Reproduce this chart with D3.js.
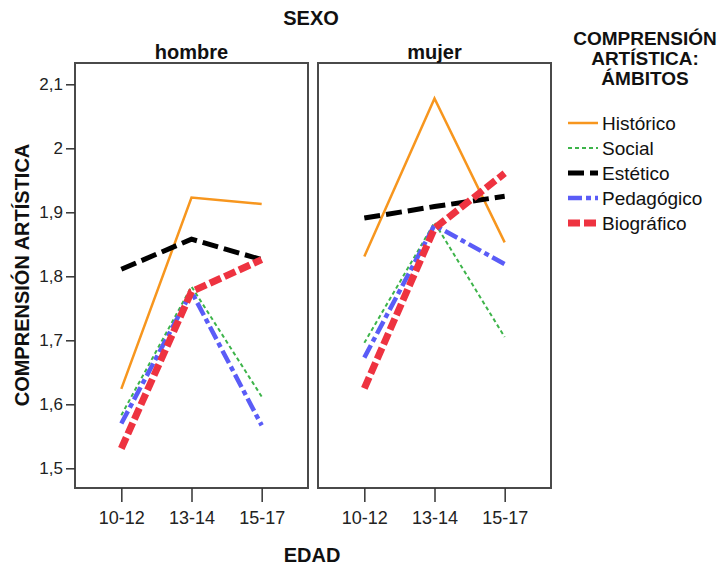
<!DOCTYPE html>
<html>
<head>
<meta charset="utf-8">
<script src="https://cdn.jsdelivr.net/npm/d3@7"></script>
<style>
  html, body { margin: 0; padding: 0; background: #fff; }
  svg { display: block; font-family: "Liberation Sans", Arial, sans-serif; }
</style>
</head>
<body>
<svg id="chart" width="724" height="565"></svg>
<script>
// ---- data ----
const categories = ["10-12", "13-14", "15-17"];
const panels = ["hombre", "mujer"];
const seriesNames = ["Histórico", "Social", "Estético", "Pedagógico", "Biográfico"];
const yTicks = [1.5, 1.6, 1.7, 1.8, 1.9, 2.0, 2.1];

const historicoHombre = [1.624, 1.923, 1.913];
const historicoMujer  = [1.831, 2.078, 1.853];
const socialHombre    = [1.583, 1.784, 1.612];
const socialMujer     = [1.696, 1.884, 1.705];
const esteticoHombre  = [1.811, 1.858, 1.826];
const esteticoMujer   = [1.891, 1.909, 1.925];
const pedagogicoHombre = [1.570, 1.776, 1.567];
const pedagogicoMujer  = [1.673, 1.880, 1.819];
const biograficoHombre = [1.531, 1.776, 1.826];
const biograficoMujer  = [1.625, 1.875, 1.961];

const seriesData = {
  "Histórico":  { hombre: historicoHombre,  mujer: historicoMujer },
  "Social":     { hombre: socialHombre,     mujer: socialMujer },
  "Estético":   { hombre: esteticoHombre,   mujer: esteticoMujer },
  "Pedagógico": { hombre: pedagogicoHombre, mujer: pedagogicoMujer },
  "Biográfico": { hombre: biograficoHombre, mujer: biograficoMujer }
};

// ---- styles ----
const styles = {
  "Histórico":  { color: "#f7961e", width: 2.5, dash: null },
  "Social":     { color: "#3db44a", width: 2,   dash: "4,3" },
  "Estético":   { color: "#000000", width: 5,   dash: "16,6" },
  "Pedagógico": { color: "#5a5cf7", width: 4.5, dash: "14,4,5,4" },
  "Biográfico": { color: "#ee3340", width: 7,   dash: "12,4" }
};

const svg = d3.select("#chart");
const panelLeft = { hombre: 75, mujer: 318 };
const panelW = 233, panelTop = 63, panelBottom = 488;

const y = d3.scaleLinear().domain([1.5, 2.1]).range([468.3, 84.3]);
const fmt = d => String(+d.toFixed(1)).replace(".", ",");

panels.forEach((p, i) => {
  const x0 = panelLeft[p];
  const x = d3.scalePoint().domain(categories).range([x0, x0 + panelW]).padding(0.66);

  // frame
  svg.append("rect")
    .attr("x", x0).attr("y", panelTop)
    .attr("width", panelW).attr("height", panelBottom - panelTop)
    .attr("fill", "none").attr("stroke", "#4a4a4a").attr("stroke-width", 2);

  // x axis
  const gx = svg.append("g").attr("transform", `translate(0,${panelBottom})`)
    .call(d3.axisBottom(x).tickSize(14).tickPadding(9));
  gx.select(".domain").remove();
  gx.selectAll(".tick line").attr("stroke", "#333").attr("stroke-width", 1.5);
  gx.selectAll(".tick text").attr("font-size", 18).attr("fill", "#222")
    .attr("font-family", "Liberation Sans, Arial, sans-serif");

  // y axis only on first panel
  if (i === 0) {
    const gy = svg.append("g").attr("transform", `translate(${x0},0)`)
      .call(d3.axisLeft(y).tickValues(yTicks).tickFormat(fmt).tickSize(9).tickPadding(3));
    gy.select(".domain").remove();
    gy.selectAll(".tick line").attr("stroke", "#333").attr("stroke-width", 1.5);
    gy.selectAll(".tick text").attr("font-size", 17).attr("fill", "#222")
      .attr("font-family", "Liberation Sans, Arial, sans-serif");
  }

  // panel label
  svg.append("text").attr("x", x0 + panelW / 2).attr("y", 59)
    .attr("text-anchor", "middle").attr("font-size", 20).attr("font-weight", "bold")
    .attr("fill", "#111").text(p);

  // lines
  const line = d3.line().x((d, k) => x(categories[k])).y(d => y(d));
  seriesNames.forEach(s => {
    const st = styles[s];
    svg.append("path")
      .datum(seriesData[s][p])
      .attr("d", line)
      .attr("fill", "none")
      .attr("stroke", st.color)
      .attr("stroke-width", st.width)
      .attr("stroke-dasharray", st.dash)
      .attr("stroke-linejoin", "miter");
  });
});

// titles
svg.append("text").attr("x", 311).attr("y", 25).attr("text-anchor", "middle")
  .attr("font-size", 20).attr("font-weight", "bold").attr("fill", "#111").text("SEXO");
svg.append("text").attr("x", 312).attr("y", 562).attr("text-anchor", "middle")
  .attr("font-size", 20).attr("font-weight", "bold").attr("fill", "#111").text("EDAD");
svg.append("text").attr("transform", "translate(29,275) rotate(-90)").attr("text-anchor", "middle")
  .attr("font-size", 20).attr("font-weight", "bold").attr("fill", "#111").text("COMPRENSIÓN ARTÍSTICA");

// legend
const legTitle = ["COMPRENSIÓN", "ARTÍSTICA:", "ÁMBITOS"];
const legTitleG = svg.append("text").attr("text-anchor", "middle")
  .attr("font-size", 19).attr("font-weight", "bold").attr("fill", "#111");
legTitle.forEach((t, k) => {
  legTitleG.append("tspan").attr("x", 645).attr("y", 45 + k * 20).text(t);
});
seriesNames.forEach((s, k) => {
  const yy = 123 + k * 25;
  const st = styles[s];
  svg.append("line").attr("x1", 568).attr("x2", 598).attr("y1", yy).attr("y2", yy)
    .attr("stroke", st.color).attr("stroke-width", st.width).attr("stroke-dasharray", st.dash);
  svg.append("text").attr("x", 602).attr("y", yy + 7).attr("font-size", 19)
    .attr("fill", "#111").text(s);
});
</script>
</body>
</html>
